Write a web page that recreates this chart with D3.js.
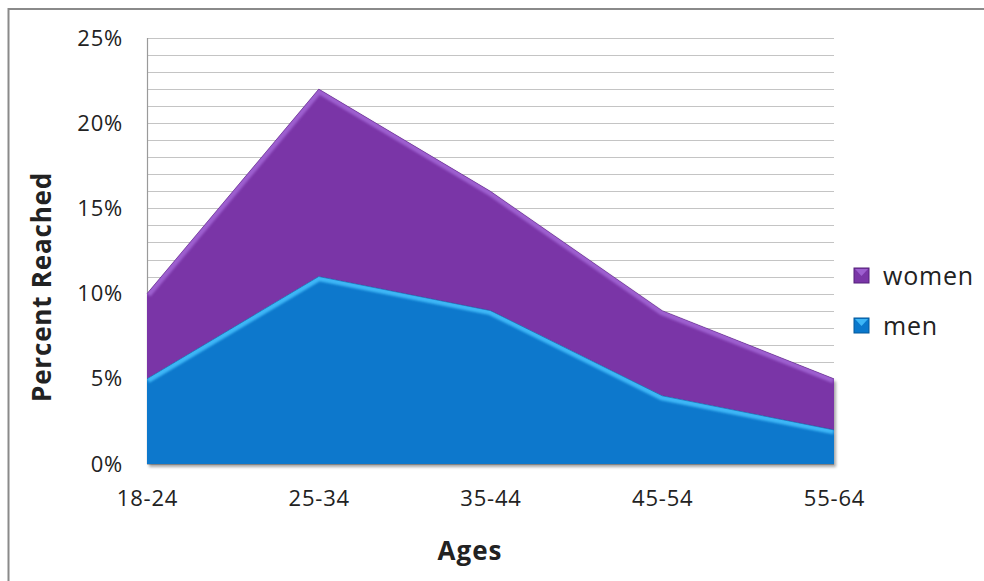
<!DOCTYPE html>
<html>
<head>
<meta charset="utf-8">
<script src="https://cdn.jsdelivr.net/npm/d3@7"></script>
<style>
  html, body { margin: 0; padding: 0; background: #fff; }
  svg { display: block; }
  text { font-family: "Open Sans", "DejaVu Sans", sans-serif; fill: #222; }
</style>
</head>
<body>
<svg id="chart" width="984" height="581"></svg>
<script>
// Share of people reached, by age band and gender (stacked)
const ageGroups = ["18-24", "25-34", "35-44", "45-54", "55-64"];
const menValues = [5, 11, 9, 4, 2];
const womenValues = [5, 11, 7, 5, 3];
const seriesKeys = ["men", "women"];
const yTicks = [0, 5, 10, 15, 20, 25];
const yGrid = d3.range(0, 26, 1);

const rows = ageGroups.map((g, i) => ({ age: g, men: menValues[i], women: womenValues[i] }));

const W = 984, H = 581;
const plot = { left: 147, right: 834, top: 38, bottom: 464 };

const svg = d3.select("#chart");

const x = d3.scalePoint().domain(ageGroups).range([plot.left, plot.right]);
const y = d3.scaleLinear().domain([0, 25]).range([plot.bottom, plot.top]);

const colors = {
  men:   { fill: "#0a78cc", light: "#3db6f6", dark: "#05589a" },
  women: { fill: "#7a36a7", light: "#9d5fcf", dark: "#55207a" }
};

// outer frame
svg.append("rect")
  .attr("x", 8.5).attr("y", 9).attr("width", W + 20).attr("height", H + 20)
  .attr("fill", "none").attr("stroke", "#8a8a8a").attr("stroke-width", 2);

const defs = svg.append("defs");
const shadow = defs.append("filter").attr("id", "shadow")
  .attr("x", "-5%").attr("y", "-5%").attr("width", "110%").attr("height", "110%");
shadow.append("feDropShadow").attr("dx", 2).attr("dy", 3).attr("stdDeviation", 1.5)
  .attr("flood-color", "#000").attr("flood-opacity", 0.35);

const soft = defs.append("filter").attr("id", "soft");
soft.append("feGaussianBlur").attr("stdDeviation", 1.2);

// horizontal gridlines, one per percentage point
svg.append("g").selectAll("line").data(yGrid).join("line")
  .attr("x1", plot.left).attr("x2", plot.right)
  .attr("y1", d => Math.round(y(d)) + 0.5).attr("y2", d => Math.round(y(d)) + 0.5)
  .attr("stroke", "#c4c4c4").attr("stroke-width", 1.2);

// vertical value axis line
svg.append("line")
  .attr("x1", plot.left + 0.5).attr("x2", plot.left + 0.5)
  .attr("y1", plot.top).attr("y2", plot.bottom)
  .attr("stroke", "#9a9a9a").attr("stroke-width", 1.2);

const tickFont = sel => sel
  .style("font-size", "22px")
  .style("letter-spacing", "0.8px")
  .style("font-family", "'Open Sans', sans-serif")
  .attr("fill", "#222");

// y axis labels
const yAxis = d3.axisLeft(y).tickValues(yTicks).tickFormat(d => d + "%").tickSize(0).tickPadding(24);
const gy = svg.append("g").attr("transform", `translate(${plot.left},0)`).call(yAxis);
gy.select(".domain").remove();
gy.selectAll("text").call(tickFont);

// x axis labels
const xAxis = d3.axisBottom(x).tickSize(0).tickPadding(26);
const gx = svg.append("g").attr("transform", `translate(0,${plot.bottom})`).call(xAxis);
gx.select(".domain").remove();
gx.selectAll("text").call(tickFont);

// stacked areas
const stacked = d3.stack().keys(seriesKeys)(rows);
const area = d3.area()
  .x((d, i) => x(ageGroups[i]))
  .y0(d => y(d[0]))
  .y1(d => y(d[1]));
const topLine = d3.line()
  .x((d, i) => x(ageGroups[i]))
  .y(d => y(d[1]));

const gArea = svg.append("g").attr("filter", "url(#shadow)");
stacked.forEach(s => {
  gArea.append("path").datum(s).attr("d", area).attr("fill", colors[s.key].fill);
});

// bevelled edges, clipped inside each band
stacked.forEach(s => {
  const c = colors[s.key];
  const clipId = "clip-" + s.key;
  defs.append("clipPath").attr("id", clipId).append("path").datum(s).attr("d", area);
  const g = svg.append("g").attr("clip-path", `url(#${clipId})`);
  // right edge darker bevel
  g.append("line")
    .attr("x1", plot.right).attr("x2", plot.right)
    .attr("y1", y(s[s.length - 1][1])).attr("y2", y(s[s.length - 1][0]))
    .attr("stroke", c.dark).attr("stroke-width", 7).attr("opacity", 0.55).attr("filter", "url(#soft)");
  // left edge subtle bevel
  g.append("line")
    .attr("x1", plot.left).attr("x2", plot.left)
    .attr("y1", y(s[0][1])).attr("y2", y(s[0][0]))
    .attr("stroke", c.light).attr("stroke-width", 6).attr("opacity", 0.35).attr("filter", "url(#soft)");
  // top edge highlight
  g.append("path").datum(s).attr("d", topLine)
    .attr("fill", "none").attr("stroke", c.light).attr("stroke-width", 9)
    .attr("filter", "url(#soft)");
  if (s.key === "men") {
    // bottom edge darker bevel
    g.append("line")
      .attr("x1", plot.left).attr("x2", plot.right)
      .attr("y1", plot.bottom).attr("y2", plot.bottom)
      .attr("stroke", c.dark).attr("stroke-width", 7).attr("opacity", 0.8).attr("filter", "url(#soft)");
  }
});

// thin outline on the top of each band
stacked.forEach(s => {
  svg.append("path").datum(s).attr("d", topLine)
    .attr("fill", "none").attr("stroke", colors[s.key].dark).attr("stroke-width", 0.8).attr("opacity", 0.6);
});

// axis titles
svg.append("text")
  .attr("transform", `translate(51,${(plot.top + plot.bottom) / 2 + 36}) rotate(-90)`)
  .attr("text-anchor", "middle")
  .style("font-size", "26px").style("font-weight", "bold").style("letter-spacing", "0.8px")
  .text("Percent Reached");

svg.append("text")
  .attr("x", 470).attr("y", 560)
  .attr("text-anchor", "middle")
  .style("font-size", "26px").style("font-weight", "bold").style("letter-spacing", "1px")
  .text("Ages");

// legend
const legendItems = ["women", "men"];
const legend = svg.append("g");
legendItems.forEach((k, i) => {
  const ly = 276 + i * 50;
  const c = colors[k];
  const sw = legend.append("g").attr("transform", `translate(854,${ly - 8})`);
  sw.append("rect").attr("width", 15).attr("height", 15).attr("fill", c.fill);
  sw.append("path").attr("d", "M1,1 L14,1 L7.5,8 Z").attr("fill", c.light);
  sw.append("rect").attr("width", 15).attr("height", 15).attr("fill", "none")
    .attr("stroke", c.dark).attr("stroke-width", 1);
  legend.append("text").attr("x", 883).attr("y", ly + 9)
    .style("font-size", "25px").style("letter-spacing", "0.8px").text(k);
});
</script>
</body>
</html>
